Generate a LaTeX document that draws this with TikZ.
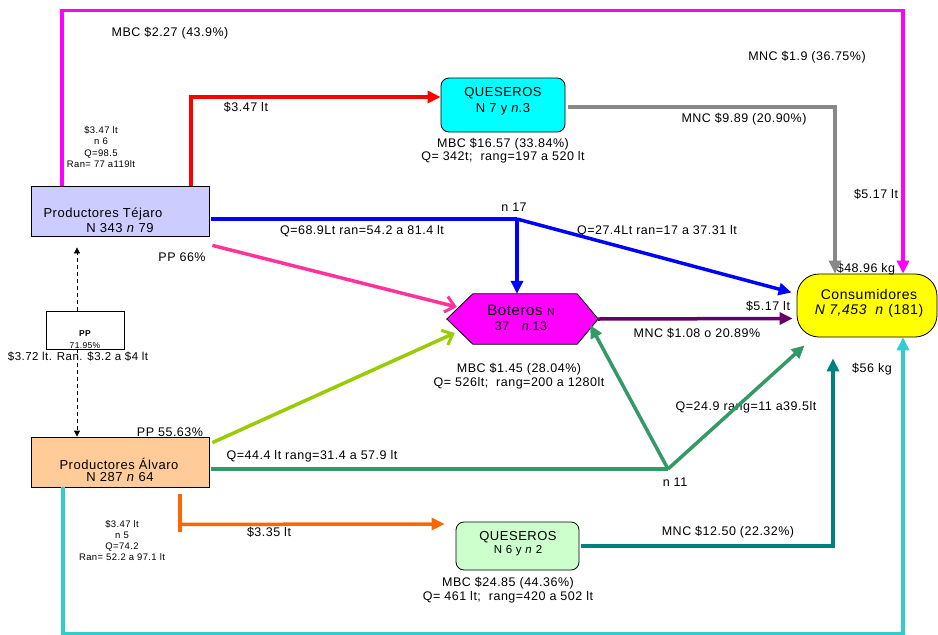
\documentclass[tikz,border=0pt]{standalone}
\usepackage{fontspec}
\setmainfont{Liberation Sans}[LetterSpace=4]
\usetikzlibrary{arrows.meta,calc}
\definecolor{tejfill}{HTML}{CCCCFF}
\definecolor{alvfill}{HTML}{FFCC99}
\definecolor{qbfill}{HTML}{CCFFCC}
\definecolor{qtfill}{HTML}{00FFFF}
\definecolor{magc}{HTML}{FF00FF}
\definecolor{redc}{HTML}{FF0000}
\definecolor{grayc}{HTML}{888888}
\definecolor{bluec}{HTML}{0000FF}
\definecolor{pinkc}{HTML}{FF3399}
\definecolor{purc}{HTML}{660066}
\definecolor{ygc}{HTML}{99CC00}
\definecolor{greenc}{HTML}{339966}
\definecolor{orc}{HTML}{FF6600}
\definecolor{tealc}{HTML}{008080}
\definecolor{cyanc}{HTML}{33CCCC}
\definecolor{yelc}{HTML}{FFFF00}
\begin{document}
\begin{tikzpicture}[x=1pt,y=-1pt,
  flow/.style={line width=3.5pt},
  tri/.style={-{Triangle[length=13pt,width=12pt]}},
  barb/.style={-{Straight Barb[length=9pt,width=16pt,line width=3pt]}},
  lbl/.style={font=\fontsize{12.5}{14}\selectfont, inner sep=0pt, align=center},
  big/.style={font=\fontsize{13}{16}\selectfont, inner sep=0pt, align=center},
  sm/.style={font=\fontsize{9.5}{11.2}\selectfont, inner sep=0pt, align=center},
  box/.style={draw=black, line width=0.8pt, inner sep=0pt},
  dashconn/.style={dashed, dash pattern=on 4pt off 3pt, line width=0.8pt, -{Triangle[length=6pt,width=6pt]}}]
\useasboundingbox (0,0) rectangle (938,635);
\fill[white] (0,0) rectangle (938,635);

% boxes
\node[box, fill=tejfill, minimum width=178pt, minimum height=50pt] (tej) at (120,211) {};
\node[box, fill=alvfill, minimum width=178pt, minimum height=50pt] (alv) at (120,462) {};
\node[box, fill=qtfill, rounded corners=8pt, minimum width=124pt, minimum height=54pt] (qtop) at (503,105) {};
\node[box, fill=qbfill, rounded corners=8pt, minimum width=123pt, minimum height=48pt] (qbot) at (517.5,546) {};
\node[box, fill=yelc, rounded corners=22pt, minimum width=140pt, minimum height=63pt] (cons) at (867,305.5) {};
\node[box, fill=white, minimum width=78pt, minimum height=38pt] (pp) at (85,330) {};
\node[minimum width=151pt, minimum height=50pt, inner sep=0pt] (bot) at (522.5,319) {};
\filldraw[fill=magc, draw=black, line width=0.8pt] (bot.west) -- ([xshift=26pt]bot.north west) -- ([xshift=-21pt]bot.north east) -- (bot.east) -- ([xshift=-21pt]bot.south east) -- ([xshift=26pt]bot.south west) -- cycle;

% box texts
\node[big] (tejt1) at (103,214) {Productores Téjaro};
\node[big] (tejt2) at (120,228) {N 343 \textit{n} 79};
\node[big] (alvt1) at (119,464) {Productores Álvaro};
\node[big] (alvt2) at (120,477) {N 287 \textit{n} 64};
\node[big] (qtopt) at (503,101) {QUESEROS\\N 7 y \textit{n}.3};
\node[big] (qbt1) at (518,537) {QUESEROS};
\node[lbl, font=\fontsize{11.5}{13}\selectfont] (qbt2) at (518,551) {N 6 y \textit{n} 2};
\node[inner sep=0pt, font=\fontsize{15}{18}\selectfont] (bott1) at (521,310) {Boteros {\fontsize{10}{12}\selectfont N}};
\node[lbl] (bott2) at (521,326) {37\quad\textit{n}.13};
\node[inner sep=0pt, align=center, font=\fontsize{14}{15.5}\selectfont] (const) at (869,303.5) {Consumidores\\\textit{N 7,453\ \ n} (181)};
\node[inner sep=0pt, font=\bfseries\fontsize{8.5}{10}\selectfont] (ppt1) at (85,334) {PP};
\node[inner sep=0pt, font=\fontsize{8.5}{10}\selectfont] (ppt2) at (85,346) {71.95\%};
\node[inner sep=0pt, font=\fontsize{11.5}{13}\selectfont] (ppt3) at (78,357) {\$3.72 lt. Ran. \$3.2 a \$4 lt};

% labels
\node[lbl] (l1) at (170,33) {MBC \$2.27 (43.9\%)};
\node[lbl] (l2) at (807,57) {MNC \$1.9 (36.75\%)};
\node[lbl] (l3) at (246,107) {\$3.47 lt};
\node[sm] (l4) at (101,147) {\$3.47 lt\\n 6\\Q=98.5\\Ran= 77 a119lt};
\node[lbl, font=\fontsize{12.5}{13.5}\selectfont] (l5) at (503,150.5) {MBC \$16.57 (33.84\%)\\Q= 342t;\ \ rang=197 a 520 lt};
\node[lbl] (l6) at (744,119) {MNC \$9.89 (20.90\%)};
\node[lbl] (l7) at (876,194) {\$5.17 lt};
\node[lbl] (l8) at (657,231) {Q=27.4Lt ran=17 a 37.31 lt};
\node[lbl] (l9) at (866,269) {\$48.96 kg};
\node[lbl] (l10) at (362,231) {Q=68.9Lt ran=54.2 a 81.4 lt};
\node[lbl] (l11) at (514,207) {n 17};
\node[lbl] (l12) at (182,257) {PP 66\%};
\node[lbl] (l13) at (768,306) {\$5.17 lt};
\node[lbl] (l14) at (697,333) {MNC \$1.08 o 20.89\%};
\node[lbl, font=\fontsize{12.5}{14}\selectfont] (l15) at (519,376) {MBC \$1.45 (28.04\%)\\Q= 526lt;\ \ rang=200 a 1280lt};
\node[lbl] (l16) at (872,369) {\$56 kg};
\node[lbl] (l17) at (746,407) {Q=24.9 rang=11 a39.5lt};
\node[lbl] (l18) at (675,482) {n 11};
\node[lbl] (l19) at (170,432) {PP 55.63\%};
\node[lbl] (l20) at (312,456) {Q=44.4 lt rang=31.4 a 57.9 lt};
\node[sm] (l21) at (122,540.5) {\$3.47 lt\\n 5\\Q=74.2\\Ran= 52.2 a 97.1 lt};
\node[lbl] (l22) at (269,532) {\$3.35 lt};
\node[lbl, font=\fontsize{12.5}{14}\selectfont] (l23) at (508,590) {MBC \$24.85 (44.36\%)\\Q= 461 lt;\ \ rang=420 a 502 lt};
\node[lbl] (l24) at (728,532) {MNC \$12.50 (22.32\%)};

% connectors
\draw[flow, magc, tri] ([xshift=-58pt]tej.north) -- ++(0,-175) -| ([xshift=36pt]cons.north);
\draw[flow, redc, tri] ([xshift=71pt]tej.north) |- ([yshift=8pt]qtop.west);
\draw[flow, grayc, tri] ([xshift=3pt,yshift=-2pt]qtop.east) -| ([xshift=-32pt]cons.north);
\coordinate (j17) at (517,219);
\draw[flow, bluec] ([shift={(2,8)}]tej.east) -- (j17);
\draw[flow, bluec, tri] (j17) -- (j17 |- bot.north);
\draw[flow, bluec, tri] (j17) -- ([shift={(-5,-13)}]cons.west);
\draw[flow, pinkc, barb] ([shift={(3,9)}]tej.south east) -- ([shift={(10,-12)}]bot.west);
\draw[flow, ygc, barb] ([shift={(3,6)}]alv.north east) -- ([shift={(8,14)}]bot.west);
\draw[flow, purc, tri] (bot.east) -- ([shift={(-4,13)}]cons.west);
\coordinate (j11) at (668,469);
\draw[flow, greenc] ([shift={(2,7)}]alv.east) -- (j11);
\draw[flow, greenc, tri] (j11) -- ([shift={(-8,6)}]bot.east);
\draw[flow, greenc, tri] (j11) -- ([shift={(8,8)}]cons.south west);
\draw[flow, tealc, tri] ([xshift=2pt]qbot.east) -| ([shift={(-34,21)}]cons.south);
\draw[flow, cyanc, tri] ([xshift=-57pt]alv.south) -- ++(0,146) -| ([xshift=36pt]cons.south);
\draw[flow, orc] ([shift={(60,7)}]alv.south) -- ++(0,38);
\draw[flow, orc, tri] ([shift={(60,37)}]alv.south) -- ([shift={(-11,-22)}]qbot.west);
\draw[dashconn] ([xshift=-8pt]pp.north) -- ([shift={(-43,11)}]tej.south);
\draw[dashconn] ([xshift=-8pt]pp.south) -- ([xshift=-43pt]alv.north);
\end{tikzpicture}
\end{document}
